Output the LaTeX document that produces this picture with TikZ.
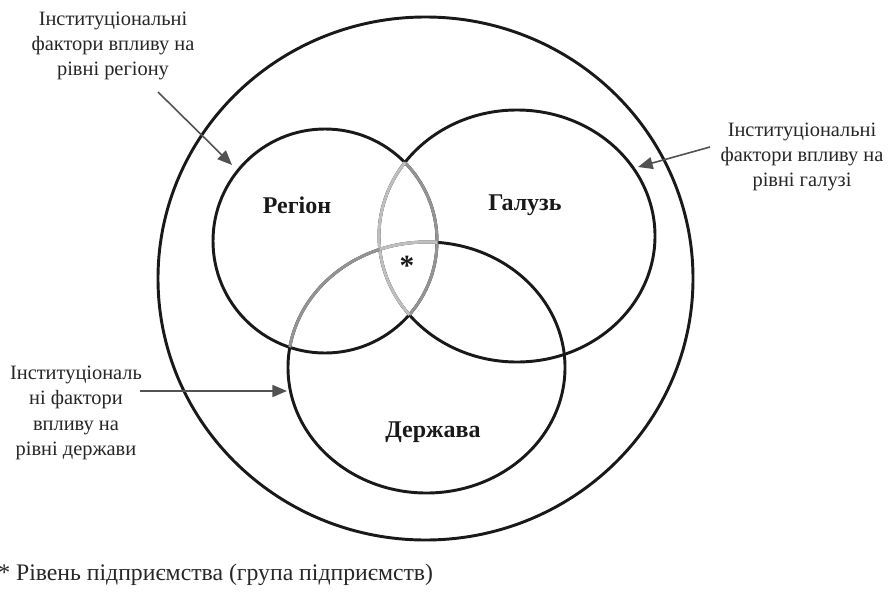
\documentclass[tikz,border=0pt]{standalone}
\usepackage{fontspec}
\setmainfont{Liberation Serif}
\usetikzlibrary{arrows.meta}

\begin{document}
\begin{tikzpicture}[x=0.75pt,y=-0.75pt,
    ring/.style={line width=2.2pt, draw=black!90},
    lensarc/.style={line width=2.2pt, draw=black!42},
    lensarclight/.style={line width=2.2pt, draw=black!25},
    note/.style={align=center, inner sep=0pt, font=\fontsize{15.3}{19}\selectfont, text=black!85},
    title/.style={inner sep=0pt, font=\fontsize{18}{20}\selectfont\bfseries, text=black!90},
    pointer/.style={draw=black!68, line width=1.2pt, -{Triangle[length=11pt,width=9pt]}}]
\useasboundingbox (0,0) rectangle (888,596);
% circles
\draw[ring] (425.5,278.5) ellipse [x radius=267.5, y radius=261.5];
\draw[ring] (325,241) circle [radius=112];
\draw[ring] (517,236) ellipse [x radius=138, y radius=126];
\draw[ring] (426.5,367.5) ellipse [x radius=138.5, y radius=125.5];
% grey parts around the common area
\begin{scope}
  \clip (517,236) ellipse [x radius=138, y radius=126];
  \draw[lensarc] (325,241) circle [radius=112];
\end{scope}
\begin{scope}
  \clip (325,241) circle [radius=112];
  \draw[lensarclight] (517,236) ellipse [x radius=138, y radius=126];
  \draw[lensarc] (426.5,367.5) ellipse [x radius=138.5, y radius=125.5];
\end{scope}
\begin{scope}
  \clip (325,241) circle [radius=112];
  \clip (517,236) ellipse [x radius=138, y radius=126];
  \draw[lensarclight] (426.5,367.5) ellipse [x radius=138.5, y radius=125.5];
\end{scope}
% labels
\node[title] (reg) at (297,205) {Регіон};
\node[title] (gal) at (525,205) {Галузь};
\node[title] (der) at (433,432) {Держава};
\node[title, font=\fontsize{22}{22}\selectfont\bfseries] (fi) at (407,266) {*};
\node[note] (nreg) at (113,46) {Інституціональні\\фактори впливу на\\рівні регіону};
\node[note] (ngal) at (802,157) {Інституціональні\\фактори впливу на\\рівні галузі};
\node[note] (nder) at (76,413) {Інституціональ\\ні фактори\\впливу на\\рівні держави};
\node[anchor=west, inner sep=0pt, font=\fontsize{17.8}{20}\selectfont, text=black!85] (foot) at (-2,575) {* Рівень підприємства (група підприємств)};
% arrows
\coordinate (treg) at (232,165);
\coordinate (tgal) at (638,167);
\coordinate (tder) at (287,391);
\draw[pointer] (158,92) -- (treg);
\draw[pointer] (710,147) -- (tgal);
\draw[pointer] (140,391) -- (tder);
\end{tikzpicture}
\end{document}
